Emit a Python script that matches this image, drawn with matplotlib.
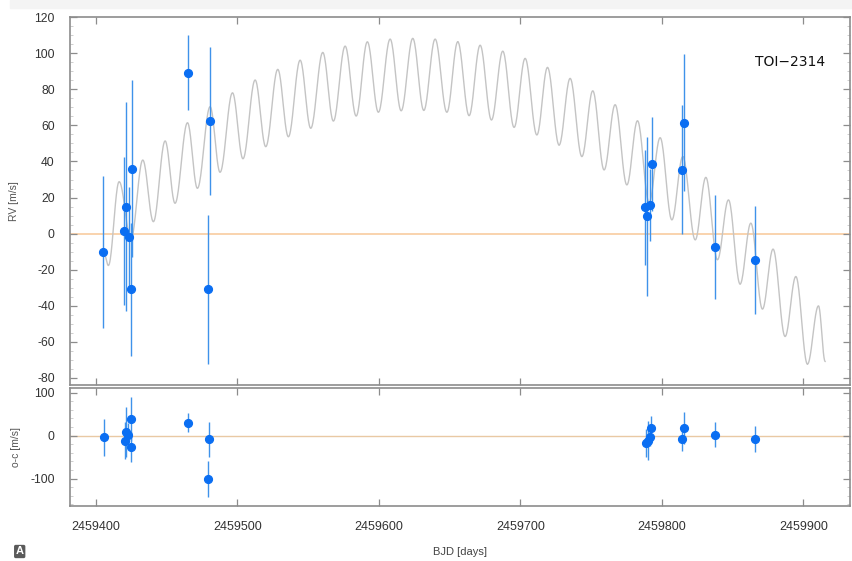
import numpy as np
import matplotlib.pyplot as plt
from matplotlib.ticker import MultipleLocator, AutoMinorLocator
from matplotlib.patches import Rectangle

plt.rcParams['font.family'] = ['Liberation Sans', 'DejaVu Sans']
plt.rcParams['axes.unicode_minus'] = False

T0 = 2459400

# RV measurements (days after T0, m/s)
rv_t = [5.4, 20.2, 21.4, 23.7, 24.7, 25.4, 65.5, 80.5, 79.4,
        388.2, 389.8, 391.7, 392.7, 414.3, 415.5, 437.6, 465.5]
rv_v = [-10.1, 1.6, 15.0, -2.0, -31.0, 36.0, 89.3, 62.4, -31.0,
        14.6, 9.5, 15.7, 38.6, 35.5, 61.5, -7.5, -14.5]
rv_err = [42, 41, 58, 28, 37, 49, 21, 41, 41.5,
          32, 44, 20, 26, 36, 38, 29, 30]

# residuals (o-c)
oc_t = [5.9, 20.3, 21.2, 22.8, 24.6, 25.2, 65.5, 80.3, 79.6,
        388.7, 390.1, 391.7, 392.4, 414.3, 415.5, 437.6, 465.5]
oc_v = [-4, -12, 8, 2, -26, 39, 29.5, -9, -101,
        -17, -11.5, -4, 18.5, -7.7, 18.5, 2.3, -8.5]
oc_err = [43, 43, 59, 28, 35, 51, 22, 41, 42,
          32, 45, 20, 28, 28, 37, 29, 30]

# model curve: successive extrema (days after T0, m/s)
ext_t = [5.5, 8.9, 16.5, 24.9, 33.2, 40.7, 49.0, 56.0, 64.8, 71.8, 80.8, 87.8,
         96.6, 104.0, 112.6, 120.1, 128.6, 136.1, 144.4, 151.9, 160.4, 167.9,
         176.2, 184.0, 191.9, 199.7, 208.0, 215.8, 224.0, 231.8, 239.8, 248.1,
         255.8, 263.8, 271.6, 279.6, 287.6, 295.6, 303.4, 311.7, 319.2, 327.4,
         335.2, 343.5, 351.2, 359.2, 367.0, 375.3, 382.8, 391.0, 398.8, 407.1,
         414.8, 423.6, 431.1, 439.3, 447.1, 455.3, 462.9, 471.1, 478.6, 487.1,
         494.7, 502.9, 510.7, 515.4]
ext_v = [-10, -17.7, 28.8, -3, 40.8, 6.6, 51.4, 16.8, 61.5, 25.1, 70.4, 34.0,
         78.1, 41.5, 85.2, 48.2, 91.1, 53.7, 96.2, 58.4, 100.5, 62.4,
         104.0, 65.2, 106.4, 67.3, 107.9, 68.1, 108.3, 68.3, 107.9, 67.3,
         106.4, 65.4, 104.5, 63.0, 101.2, 58.9, 97.2, 54.7, 92.2, 49.1,
         86.1, 42.7, 79.2, 35.3, 71.5, 27.0, 62.6, 17.3, 53.2, 7.6,
         42.7, -3.5, 31.2, -14.5, 18.7, -28.0, 5.8, -41.9, -8.6, -57.1,
         -23.8, -72.4, -40.1, -70.9]

label_text = 'TOI\u22122314'

# smooth half-cosine strokes between extrema
mt, mv = [], []
s = np.linspace(0, 1, 24)
for i in range(len(ext_t) - 1):
    ta, tb = ext_t[i], ext_t[i + 1]
    va, vb = ext_v[i], ext_v[i + 1]
    mt.extend(T0 + ta + (tb - ta) * s)
    mv.extend(va + (vb - va) * (1 - np.cos(np.pi * s)) / 2)

fig = plt.figure(figsize=(8.52, 5.61), dpi=100)
fig.patches.append(Rectangle((10 / 852, 1 - 8 / 561), 1, 8 / 561,
                             transform=fig.transFigure, color='#f4f4f4', zorder=0))

ax1 = fig.add_axes([0.0822, 0.3137, 0.9155, 0.6565])
ax2 = fig.add_axes([0.0822, 0.0980, 0.9155, 0.2105], sharex=ax1)

pt_color = '#0a6ef2'
bar_color = '#3f92ea'

ax1.axhline(0, color='#f9d3ad', lw=1.4, zorder=1)
ax1.plot(mt, mv, color='#c4c4c4', lw=1.0, zorder=2)
ax1.errorbar(np.array(rv_t) + T0, rv_v, yerr=rv_err, fmt='o', color=pt_color,
             ms=5.6, ecolor=bar_color, elinewidth=1.0, capsize=0, zorder=3)
ax1.text(T0 + 465.7, 95, label_text, fontsize=10, color='#111111',
         family=['DejaVu Sans'], va='center', ha='left')

ax2.axhline(0, color='#e9c9a4', lw=1.0, zorder=1)
ax2.errorbar(np.array(oc_t) + T0, oc_v, yerr=oc_err, fmt='o', color=pt_color,
             ms=5.6, ecolor=bar_color, elinewidth=1.0, capsize=0, zorder=3)

ax1.set_xlim(T0 - 18.2, T0 + 533)
ax1.set_ylim(-84, 120.3)
ax2.set_ylim(-164, 111)
ax1.xaxis.set_major_locator(MultipleLocator(100))
ax1.yaxis.set_major_locator(MultipleLocator(20))
ax2.yaxis.set_major_locator(MultipleLocator(100))
ax2.yaxis.set_minor_locator(AutoMinorLocator(5))
ax1.yaxis.set_minor_locator(AutoMinorLocator(4))
ax1.ticklabel_format(useOffset=False, style='plain', axis='x')

for ax in (ax1, ax2):
    for sp in ax.spines.values():
        sp.set_color('#8c8c8c')
        sp.set_linewidth(1.2)
    ax.tick_params(which='both', direction='in', top=True, right=True,
                   color='#8c8c8c', labelcolor='#333333')
    ax.tick_params(which='major', length=5, width=0.9, pad=11, labelsize=8.7)
    ax.tick_params(which='minor', length=2.5, width=0.6, color='#c8c8c8')
ax1.tick_params(axis='x', labelbottom=False)
ax2.tick_params(axis='x', labelsize=9)

ax1.set_ylabel('RV [m/s]', fontsize=7.5, color='#555555')
ax2.set_ylabel('o-c [m/s]', fontsize=7.5, color='#555555')
ax1.yaxis.set_label_coords(-0.066, 0.5)
ax2.yaxis.set_label_coords(-0.063, 0.5)
ax2.set_xlabel('BJD [days]', fontsize=8, color='#444444', labelpad=10)

fig.text(19.7 / 852, 1 - 551.5 / 561, 'A', fontsize=8, color='white',
         fontweight='bold', ha='center', va='center',
         bbox=dict(boxstyle='round,pad=0.15', fc='#5a5a5a', ec='none'))

fig.savefig('out.png', dpi=100)
